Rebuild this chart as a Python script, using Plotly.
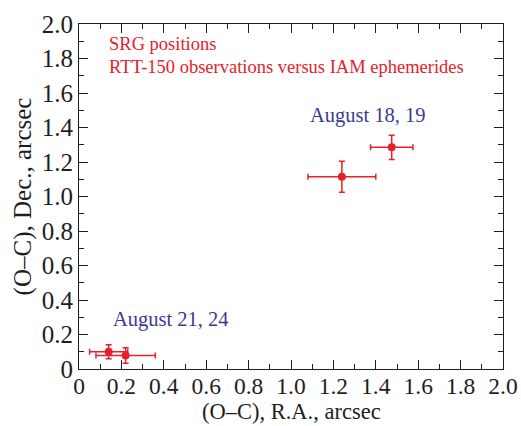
import plotly.graph_objects as go

ra = [1.24, 1.475, 0.14, 0.22]
dec = [1.115, 1.285, 0.10, 0.078]
ra_err = [0.16, 0.10, 0.09, 0.14]
dec_err = [0.09, 0.07, 0.04, 0.045]

tick_vals = [0, 0.2, 0.4, 0.6, 0.8, 1.0, 1.2, 1.4, 1.6, 1.8, 2.0]
tick_text = ["0", "0.2", "0.4", "0.6", "0.8", "1.0", "1.2", "1.4", "1.6", "1.8", "2.0"]

red = "#e8202a"
blue = "#3a3a95"
dark = "#1e1e1e"
font = "Liberation Serif, Times New Roman, serif"

fig = go.Figure()
fig.add_trace(go.Scatter(
    x=ra, y=dec, mode="markers",
    marker=dict(color=red, size=8),
    error_x=dict(type="data", array=ra_err, color=red, thickness=1.5, width=3),
    error_y=dict(type="data", array=dec_err, color=red, thickness=1.5, width=3),
    showlegend=False,
))

axis_common = dict(
    range=[0, 2.0], tickvals=tick_vals, ticktext=tick_text,
    ticks="inside", ticklen=9, tickwidth=1.2, tickcolor=dark,
    showline=True, linecolor=dark, linewidth=1.2, mirror="ticks",
    showgrid=False, zeroline=False, automargin=False,
    minor=dict(ticks="inside", ticklen=5, dtick=0.1, tickcolor=dark, tickwidth=1.2, showgrid=False),
)

fig.update_layout(
    width=521, height=426,
    margin=dict(l=79, r=18, t=24, b=57),
    paper_bgcolor="white", plot_bgcolor="white",
    xaxis=dict(axis_common, tickfont=dict(family=font, size=23.5, color=dark), ticklabelstandoff=-4),
    yaxis=dict(axis_common, tickfont=dict(family=font, size=25, color=dark),
               title=dict(text="(O–C), Dec., arcsec", font=dict(family=font, size=25, color=dark), standoff=2)),
    annotations=[
        dict(x=0.5, y=0, xref="paper", yref="paper", yshift=-57, text="(O–C), R.A., arcsec", showarrow=False,
             xanchor="center", yanchor="bottom", font=dict(family=font, size=22.5, color=dark)),
        dict(x=0.134, y=1.884, text="SRG positions", showarrow=False, xanchor="left", yanchor="middle",
             font=dict(family=font, size=18.5, color=red)),
        dict(x=0.134, y=1.753, text="RTT-150 observations versus IAM ephemerides", showarrow=False,
             xanchor="left", yanchor="middle", font=dict(family=font, size=18.5, color=red)),
        dict(x=1.079, y=1.468, text="August 18, 19", showarrow=False, xanchor="left", yanchor="middle",
             font=dict(family=font, size=20.5, color=blue)),
        dict(x=0.149, y=0.288, text="August 21, 24", showarrow=False, xanchor="left", yanchor="middle",
             font=dict(family=font, size=20.5, color=blue)),
    ],
)

fig.write_html("out.html")
